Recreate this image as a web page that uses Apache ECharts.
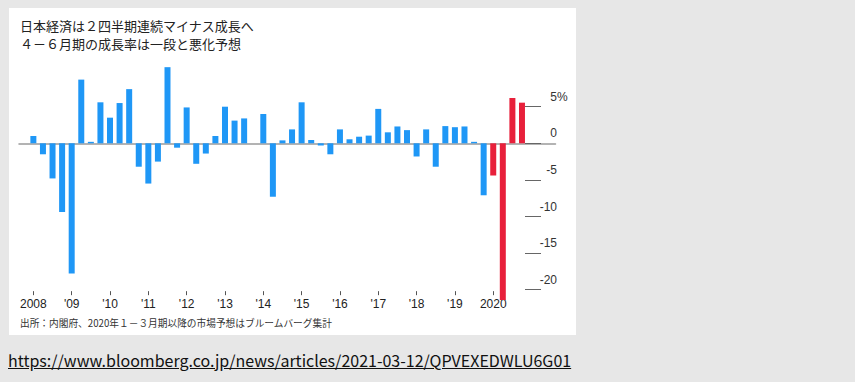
<!DOCTYPE html>
<html>
<head>
<meta charset="utf-8">
<script src="https://cdn.jsdelivr.net/npm/echarts@6/dist/echarts.min.js"></script>
<style>
  html, body { margin: 0; padding: 0; background: #e7e7e7; width: 855px; height: 382px; overflow: hidden; }
  #box { position: absolute; left: 9px; top: 8px; width: 567px; height: 327px; background: #ffffff; }
  #chart { position: absolute; left: 0; top: 0; width: 855px; height: 382px; }
  #url { position: absolute; left: 8px; top: 348px; font-family: "Noto Sans CJK JP", "Noto Sans", sans-serif; font-size: 16px; color: #111; text-decoration: underline; white-space: nowrap; }
</style>
</head>
<body>
<div id="box"></div>
<div id="chart"></div>
<div id="url">https://www.bloomberg.co.jp/news/articles/2021-03-12/QPVEXEDWLU6G01</div>
<script>
// ---- data ----
const quarters = [
  '2008Q1','2008Q2','2008Q3','2008Q4',
  '2009Q1','2009Q2','2009Q3','2009Q4',
  '2010Q1','2010Q2','2010Q3','2010Q4',
  '2011Q1','2011Q2','2011Q3','2011Q4',
  '2012Q1','2012Q2','2012Q3','2012Q4',
  '2013Q1','2013Q2','2013Q3','2013Q4',
  '2014Q1','2014Q2','2014Q3','2014Q4',
  '2015Q1','2015Q2','2015Q3','2015Q4',
  '2016Q1','2016Q2','2016Q3','2016Q4',
  '2017Q1','2017Q2','2017Q3','2017Q4',
  '2018Q1','2018Q2','2018Q3','2018Q4',
  '2019Q1','2019Q2','2019Q3','2019Q4',
  '2020Q1','2020Q2','2020Q3','2020Q4'
];
// actual annualized growth (%), 2008Q1 - 2019Q4
const actual = [
  1.0, -1.5, -4.8, -9.4,
  -17.8, 8.7, 0.2, 5.6,
  3.5, 5.5, 7.4, -3.2,
  -5.5, -2.5, 10.4, -0.6,
  4.9, -2.8, -1.4, 1.0,
  5.0, 3.1, 3.4, 0.0,
  4.0, -7.3, 0.4, 1.9,
  5.6, 0.45, -0.3, -1.5,
  1.9, 0.55, 0.9, 1.05,
  4.7, 1.5, 2.3, 1.8,
  -1.8, 1.9, -3.2, 2.35,
  2.2, 2.3, 0.2, -7.1
];
// forecast, 2020Q1 - 2020Q4
const forecast = [-4.4, -21.4, 6.2, 5.55];
const yearLabels = {
  '2008': '2008', '2009': "'09", '2010': "'10", '2011': "'11", '2012': "'12",
  '2013': "'13", '2014': "'14", '2015': "'15", '2016': "'16", '2017': "'17",
  '2018': "'18", '2019': "'19", '2020': '2020'
};
const yTicks = [5, 0, -5, -10, -15, -20];
const unitText = '%';
const titleLine1 = '日本経済は２四半期連続マイナス成長へ';
const titleLine2 = '４－６月期の成長率は一段と悪化予想';
const sourceText = '出所：内閣府、2020年１－３月期以降の市場予想はブルームバーグ集計';

// ---- build ----
const padBefore = 1, padAfter = 3;
const cats = [];
for (let i = 0; i < padBefore; i++) cats.push('pb' + i);
quarters.forEach(q => cats.push(q));
for (let i = 0; i < padAfter; i++) cats.push('pa' + i);

const actualData = cats.map(c => {
  const i = quarters.indexOf(c);
  return (i >= 0 && i < actual.length) ? actual[i] : null;
});
const forecastData = cats.map(c => {
  const i = quarters.indexOf(c) - actual.length;
  return (i >= 0 && i < forecast.length) ? forecast[i] : null;
});
const isQ1 = (idx, v) => typeof v === 'string' && v.endsWith('Q1');

const zeroY = 143.3, pxPer = 7.32;
const g1max = 11, g1min = -20.2;
const g2max = 5, g2min = -20;
const axisRight = 557;

const chart = echarts.init(document.getElementById('chart'), null, { renderer: 'svg' });
const latin = '"Liberation Sans", Arial, sans-serif';
const cjk = '"Noto Sans CJK JP", sans-serif';
const titleStyle = { fontFamily: cjk, fontSize: 13, fontWeight: 'normal', color: '#222', lineHeight: 13 };

chart.setOption({
  animation: false,
  title: [
    { text: titleLine1, left: 20, top: 18.5, padding: 0, textStyle: titleStyle },
    { text: titleLine2, left: 20, top: 36.5, padding: 0, textStyle: titleStyle }
  ],
  graphic: [
    {
      type: 'text', left: 20, top: 318,
      style: { text: sourceText, font: '9.7px ' + cjk, fill: '#333' }
    },
    {
      type: 'text', x: axisRight, y: zeroY - g2max * pxPer - 4,
      style: { text: unitText, font: '12px ' + latin, fill: '#333', align: 'left', verticalAlign: 'bottom' }
    }
  ],
  grid: [
    { left: 19, width: 536.5, top: zeroY - g1max * pxPer, height: (g1max - g1min) * pxPer },
    { left: axisRight - 16, width: 16, top: zeroY - g2max * pxPer, height: (g2max - g2min) * pxPer }
  ],
  xAxis: [
    {
      type: 'category', gridIndex: 0, data: cats, position: 'bottom',
      axisLine: { show: false, onZero: false },
      axisTick: { show: true, interval: isQ1, alignWithLabel: true, length: 4, lineStyle: { color: '#555', width: 1 } },
      axisLabel: {
        interval: isQ1, margin: 7, color: '#222', fontSize: 12, fontFamily: latin,
        formatter: v => yearLabels[v.slice(0, 4)] || ''
      },
      splitLine: { show: false }
    },
    {
      type: 'category', gridIndex: 0, data: cats, position: 'top',
      axisLine: { show: true, onZero: true, lineStyle: { color: '#9a9a9a', width: 1.5 } },
      axisTick: { show: false }, axisLabel: { show: false }, splitLine: { show: false }
    },
    { type: 'value', gridIndex: 1, show: false, min: 0, max: 1 }
  ],
  yAxis: [
    { type: 'value', gridIndex: 0, min: g1min, max: g1max, show: false, splitLine: { show: false } },
    {
      type: 'value', gridIndex: 1, min: g2min, max: g2max, interval: 5, position: 'right',
      axisLine: { show: false },
      axisTick: { show: true, inside: true, length: 16, lineStyle: { color: '#666', width: 1 } },
      splitLine: { show: false },
      axisLabel: {
        inside: true, margin: 0, align: 'right', verticalAlign: 'bottom', padding: [0, 0, 4, 0],
        color: '#333', fontSize: 12, fontFamily: latin,
        formatter: v => (yTicks.indexOf(v) >= 0 ? String(v) : '')
      }
    }
  ],
  series: [
    {
      type: 'bar', xAxisIndex: 0, yAxisIndex: 0, data: actualData, barWidth: 6, barGap: '-100%',
      itemStyle: { color: '#1f97f6' }, clip: false, silent: true
    },
    {
      type: 'bar', xAxisIndex: 0, yAxisIndex: 0, data: forecastData, barWidth: 6, barGap: '-100%',
      itemStyle: { color: '#e8203b' }, clip: false, silent: true
    }
  ]
});
</script>
</body>
</html>
